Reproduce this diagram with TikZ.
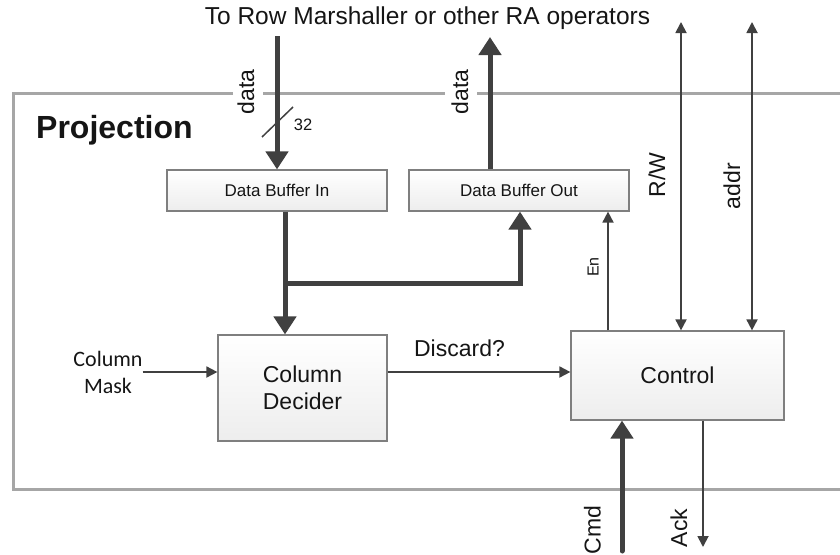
\documentclass[tikz,border=0pt]{standalone}
\usepackage{fontspec}
\setmainfont{Liberation Sans}
\newfontfamily\calibri{Carlito}
\usetikzlibrary{arrows.meta,calc}
\definecolor{ln}{HTML}{404040}
\definecolor{framec}{HTML}{A6A6A6}
\definecolor{bd}{HTML}{7F7F7F}
\definecolor{txt}{HTML}{151515}
\begin{document}
\begin{tikzpicture}[x=1pt,y=-1pt,
  blk/.style={draw=bd, line width=1.2pt, top color=white, bottom color=black!7, inner sep=0pt, text=txt, align=center},
  thickarrow/.style={draw=ln, line width=5pt, -{Triangle[length=18pt,width=22pt]}},
  thinarrow/.style={draw=ln, line width=1.8pt, -{Triangle[length=11pt,width=11pt]}},
  botharrow/.style={draw=ln, line width=1.8pt, {Triangle[length=11pt,width=11pt]}-{Triangle[length=11pt,width=11pt]}},
  lbl/.style={text=txt, inner sep=0pt},
  big/.style={font=\fontsize{23}{28}\selectfont},
  framel/.style={draw=framec, line width=3pt},
]
\useasboundingbox (0,0) rectangle (840,554);

% outer frame
\draw[framel] (233,93) -- (13,93) -- (13,489) -- (842,489);
\draw[framel] (263,93) -- (445,93);
\draw[framel] (477,93) -- (842,93);

% blocks
\node[blk, minimum width=220pt, minimum height=41pt, font=\fontsize{17}{20}\selectfont] (dbi) at (277,190.5) {Data Buffer In};
\node[blk, minimum width=220pt, minimum height=41pt, font=\fontsize{17}{20}\selectfont] (dbo) at (519,190.5) {Data Buffer Out};
\node[blk, big, minimum width=169pt, minimum height=106pt] (cd) at (302.5,388) {Column\\[-1pt]Decider};
\node[blk, big, minimum width=213pt, minimum height=89pt] (ctl) at (677.5,375.5) {Control};

% texts
\node[lbl, font=\fontsize{24.5}{28}\selectfont] (title) at (427.5,18) {To Row Marshaller or other RA operators};
\node[lbl, font=\bfseries\fontsize{32}{36}\selectfont, anchor=base west] (proj) at (36,138) {Projection};
\node[lbl, font=\calibri\fontsize{22}{27}\selectfont, align=center] (mask) at (108,372) {Column\\Mask};

% data in
\coordinate (din) at (277,36);
\draw[thickarrow] (din) -- (dbi.north);
\coordinate (s1) at (262,137);
\coordinate (s2) at (293,107);
\draw[ln, line width=1.5pt] (s1) -- (s2);
\node[lbl, font=\fontsize{16.5}{20}\selectfont] (w32) at (303,125) {32};
\node[lbl, big, rotate=90] (datain) at (246,92) {data};

% data out
\coordinate (dout) at (490,37);
\draw[thickarrow] (dbo.north -| dout) -- (dout);
\node[lbl, big, rotate=90] (dataout) at (460,92) {data};

% internal data path
\coordinate (j) at (285,283);
\draw[thickarrow] (dbi.south -| j) -- (cd.north -| j);
\coordinate (jb) at (520,283);
\draw[thickarrow] (j) -- (jb) -- (dbo.south -| jb);

% column mask
\draw[thinarrow] (mask.east) -- (mask.east -| cd.west);

% discard
\coordinate (dy) at (0,372);
\draw[thinarrow] (dy -| cd.east) -- (dy -| ctl.west);
\node[lbl, big] (disc) at (459.5,348) {Discard?};

% enable
\coordinate (en) at (608,0);
\draw[thinarrow] (ctl.north -| en) -- (dbo.south -| en);
\node[lbl, rotate=90, font=\fontsize{16}{19}\selectfont] (enl) at (593,267) {En};

% R/W and addr
\coordinate (rw) at (681,22);
\draw[botharrow] (rw) -- (rw |- ctl.north);
\node[lbl, big, rotate=90] (rwl) at (657,175) {R/W};
\coordinate (ad) at (752,22);
\draw[botharrow] (ad) -- (ad |- ctl.north);
\node[lbl, big, rotate=90] (adl) at (732,186) {addr};

% cmd and ack
\coordinate (cmd) at (622,551);
\draw[thickarrow, line cap=round] (cmd) -- (cmd |- ctl.south);
\node[lbl, big, rotate=90] (cmdl) at (592.5,530) {Cmd};
\coordinate (ack) at (703,547);
\draw[thinarrow] (ctl.south -| ack) -- (ack);
\node[lbl, big, rotate=90] (ackl) at (679,528) {Ack};
\end{tikzpicture}
\end{document}
